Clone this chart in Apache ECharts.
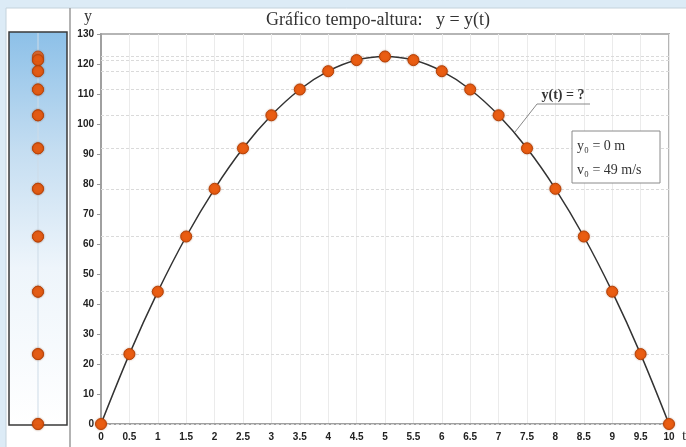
<!DOCTYPE html>
<html>
<head>
<meta charset="utf-8">
<script src="https://cdn.jsdelivr.net/npm/echarts@6/dist/echarts.min.js"></script>
<style>
  html, body { margin: 0; padding: 0; background: #dcebf6; }
  #chart { width: 686px; height: 447px; }
</style>
</head>
<body>
<div id="chart"></div>
<script>
// tempo (s) e altura (m)
var tempos = [0, 0.5, 1, 1.5, 2, 2.5, 3, 3.5, 4, 4.5, 5, 5.5, 6, 6.5, 7, 7.5, 8, 8.5, 9, 9.5, 10]
var alturas = [0, 23.3, 44.1, 62.5, 78.4, 91.9, 102.9, 111.5, 117.6, 121.3, 122.5, 121.3, 117.6, 111.5, 102.9, 91.9, 78.4, 62.5, 44.1, 23.3, 0]
var titulo = 'Gráfico tempo-altura:   y = y(t)'
var legendaCurva = 'y(t) = ?'
var condicoes = ['y₀ = 0 m', 'v₀ = 49 m/s']

var serif = '"Liberation Serif", "DejaVu Serif", serif'
var sans = '"Liberation Sans", Arial, sans-serif'

var pontos = tempos.map(function (t, i) { return [t, alturas[i]] })
var coluna = alturas.map(function (y) { return [0.5, y] })
// linhas tracejadas horizontais nas alturas dos pontos
var niveis = []
alturas.forEach(function (y) { if (niveis.indexOf(y) < 0) niveis.push(y) })

var dot = {
  color: '#ea5d12',
  borderColor: '#b84206',
  borderWidth: 1,
  shadowColor: 'rgba(120,40,0,0.35)',
  shadowBlur: 2
}

var chart = echarts.init(document.getElementById('chart'))
chart.setOption({
  backgroundColor: '#dcebf6',
  animation: false,
  grid: [
    { left: 101, right: 17, top: 34, bottom: 23, show: true, backgroundColor: '#fff', borderColor: '#b5b5b5', borderWidth: 2 },
    { left: 9, width: 58, top: 34, bottom: 23 }
  ],
  xAxis: [{
    type: 'value',
    min: 0,
    max: 10,
    interval: 0.5,
    axisLine: { lineStyle: { color: '#a0a0a0', width: 2 } },
    axisTick: { show: false },
    axisLabel: { color: '#222', fontFamily: sans, fontWeight: 'bold', fontSize: 10, margin: 8 },
    splitLine: { show: true, lineStyle: { color: '#ebebeb', width: 1 } }
  }, {
    gridIndex: 1, type: 'value', min: 0, max: 1, show: false
  }],
  yAxis: [{
    type: 'value',
    min: 0,
    max: 130,
    interval: 10,
    axisLine: { show: true, lineStyle: { color: '#a0a0a0', width: 2 } },
    axisTick: { show: true, length: 4, lineStyle: { color: '#999' } },
    axisLabel: { color: '#222', fontFamily: sans, fontWeight: 'bold', fontSize: 10, margin: 7 },
    splitLine: { show: false }
  }, {
    gridIndex: 1, type: 'value', min: 0, max: 130, show: false
  }],
  series: [
    {
      // só para as linhas tracejadas, por baixo da curva
      type: 'line',
      data: [],
      z: 1,
      markLine: {
        z: 1,
        silent: true,
        symbol: 'none',
        label: { show: false },
        lineStyle: { color: '#dadada', type: [3, 2], width: 1 },
        data: niveis.map(function (y) { return { yAxis: y } })
      }
    },
    {
      type: 'line',
      data: pontos,
      smooth: 0.35,
      symbol: 'circle',
      symbolSize: 11,
      lineStyle: { color: '#333', width: 1.5 },
      itemStyle: dot,
      z: 3
    },
    {
      type: 'scatter',
      xAxisIndex: 1,
      yAxisIndex: 1,
      data: coluna,
      symbolSize: 11,
      itemStyle: dot,
      z: 3
    }
  ],
  graphic: [
    { type: 'rect', z: -10, shape: { x: 6, y: 8, width: 690, height: 450 }, style: { fill: '#fff', stroke: '#c4d2dc', lineWidth: 1 } },
    {
      type: 'rect', z: -5,
      shape: { x: 9, y: 32, width: 58, height: 393 },
      style: {
        fill: new echarts.graphic.LinearGradient(0, 0, 0, 1, [
          { offset: 0, color: '#8cc0e8' },
          { offset: 0.3, color: '#c4ddf1' },
          { offset: 0.6, color: '#eef5fb' },
          { offset: 1, color: '#ffffff' }
        ]),
        stroke: '#3a3a3a', lineWidth: 1.5
      }
    },
    { type: 'line', z: -4, shape: { x1: 38, y1: 33, x2: 38, y2: 424 }, style: { stroke: '#cddbe7', lineWidth: 1 } },
    { type: 'line', z: -4, shape: { x1: 70, y1: 8, x2: 70, y2: 447 }, style: { stroke: '#9a9a9a', lineWidth: 1.5 } },
    { type: 'text', z: 100, style: { text: titulo, x: 378, y: 20, align: 'center', verticalAlign: 'middle', font: '18px ' + serif, fill: '#333' } },
    { type: 'text', z: 100, style: { text: 'y', x: 88, y: 17, align: 'center', verticalAlign: 'middle', font: '16px ' + serif, fill: '#333' } },
    { type: 'text', z: 100, style: { text: 't', x: 684, y: 436, align: 'center', verticalAlign: 'middle', font: '15px ' + serif, fill: '#333' } },
    { type: 'text', z: 100, style: { text: legendaCurva, x: 563, y: 95, align: 'center', verticalAlign: 'middle', font: 'bold 14px ' + serif, fill: '#333' } },
    { type: 'polyline', z: 100, shape: { points: [[515, 132], [537, 104], [590, 104]] }, style: { stroke: '#888', lineWidth: 1, fill: null } },
    { type: 'rect', z: 100, shape: { x: 572, y: 131, width: 88, height: 52 }, style: { fill: '#fff', stroke: '#8a8a8a', lineWidth: 1 } },
    { type: 'text', z: 101, style: { text: condicoes[0], x: 577, y: 146, verticalAlign: 'middle', font: '14px ' + serif, fill: '#333' } },
    { type: 'text', z: 101, style: { text: condicoes[1], x: 577, y: 170, verticalAlign: 'middle', font: '14px ' + serif, fill: '#333' } }
  ]
})
</script>
</body>
</html>
